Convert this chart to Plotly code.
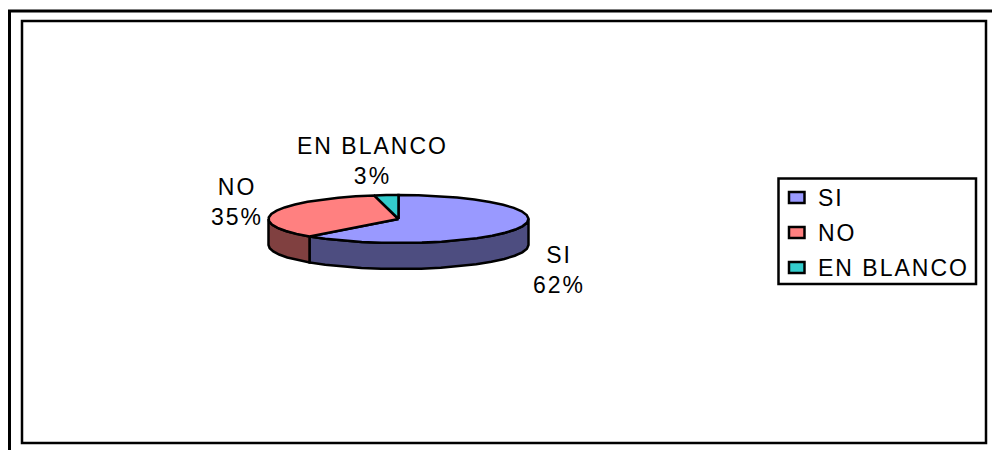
import math
import plotly.graph_objects as go

categories = ["SI", "NO", "EN BLANCO"]
values = [62, 35, 3]
top_colors = ["#9999FF", "#FF8080", "#33CCCC"]
side_colors = ["#4D4D80", "#804040", "#1A6666"]

CX, CY, RX, RY, DEPTH = 398.5, 219, 130, 24, 26
SPACING = 2.0
FONT = dict(family="Liberation Sans, Arial, sans-serif", size=23, color="black")
LABEL_POS = [(559, 270), (237, 202), (372, 161)]
LEGEND_Y = [197.5, 232.5, 267.5]


def pt(frac, dy=0):
    a = 2 * math.pi * frac
    return CX + RX * math.sin(a), CY - RY * math.cos(a) + dy


def arc(f0, f1, dy=0):
    n = max(2, int(abs(f1 - f0) * 40) + 1)
    return [pt(f0 + (f1 - f0) * i / n, dy) for i in range(n + 1)]


fig = go.Figure()
total = sum(values)
bounds = [0]
for v in values:
    bounds.append(bounds[-1] + v / total)

LINE = dict(color="black", width=2.5)
# sides (front half of the rim only)
for i, col in enumerate(side_colors):
    f0, f1 = max(bounds[i], 0.25), min(bounds[i + 1], 0.75)
    if f1 <= f0:
        continue
    poly = arc(f0, f1) + arc(f1, f0, DEPTH)
    poly.append(poly[0])
    fig.add_trace(go.Scatter(x=[p[0] for p in poly], y=[p[1] for p in poly], mode="lines",
                             fill="toself", fillcolor=col, line=LINE, showlegend=False, hoverinfo="skip"))
# top faces
for i, (name, col) in enumerate(zip(categories, top_colors)):
    poly = [(CX, CY)] + arc(bounds[i], bounds[i + 1]) + [(CX, CY)]
    fig.add_trace(go.Scatter(x=[p[0] for p in poly], y=[p[1] for p in poly], mode="lines", name=name,
                             fill="toself", fillcolor=col, line=LINE, showlegend=False, hoverinfo="skip"))

for name, v, (x, y) in zip(categories, values, LABEL_POS):
    fig.add_annotation(x=x, y=y, text=f"{name}<br>{v}%", showarrow=False, font=FONT,
                       xref="x", yref="y", align="center")

frame = dict(color="black", width=3)
shapes = [
    dict(type="line", xref="x", yref="y", x0=9.5, y0=450, x1=9.5, y1=11, line=frame),
    dict(type="line", xref="x", yref="y", x0=8, y0=11, x1=992, y1=11, line=frame),
    dict(type="rect", xref="x", yref="y", x0=22, y0=21, x1=986, y1=443,
         line=dict(color="black", width=2.5)),
    dict(type="rect", xref="x", yref="y", x0=778.5, y0=178.5, x1=976, y1=284,
         fillcolor="white", line=dict(color="black", width=2.5)),
]
for name, col, y in zip(categories, top_colors, LEGEND_Y):
    shapes.append(dict(type="rect", xref="x", yref="y", x0=789, y0=y - 5.5, x1=804.5, y1=y + 5.5,
                       fillcolor=col, line=dict(color="black", width=2.5)))
    fig.add_annotation(x=816, y=y, text=name, showarrow=False, font=FONT, xref="x", yref="y",
                       xanchor="left", yanchor="middle", xshift=len(name) * SPACING / 2)

fig.update_layout(
    width=992, height=450, margin=dict(l=0, r=0, t=0, b=0),
    paper_bgcolor="white", plot_bgcolor="white", autosize=False, showlegend=False,
    xaxis=dict(range=[0, 992], visible=False, fixedrange=True),
    yaxis=dict(range=[450, 0], visible=False, fixedrange=True),
    shapes=shapes,
)
fig.write_html(
    "out.html",
    config={"displayModeBar": False},
    post_script=(
        "document.body.style.margin='0';"
        "document.querySelectorAll('.annotation-text').forEach(function(t){t.style.letterSpacing='%spx';});"
        % SPACING
    ),
)
